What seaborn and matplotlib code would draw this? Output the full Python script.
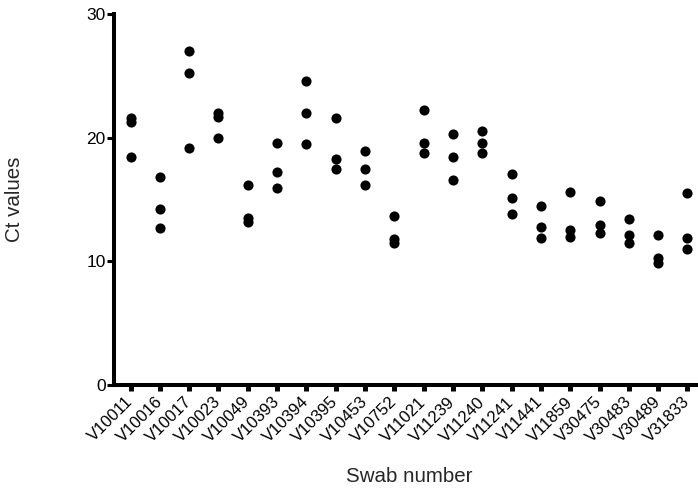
import matplotlib
matplotlib.use("Agg")
import matplotlib.pyplot as plt
import seaborn as sns
import pandas as pd

# Swab identifiers along the x axis
swabs = ["V10011", "V10016", "V10017", "V10023", "V10049", "V10393", "V10394",
         "V10395", "V10453", "V10752", "V11021", "V11239", "V11240", "V11241",
         "V11441", "V11859", "V30475", "V30483", "V30489", "V31833"]

# Three replicate Ct values per swab
rep1 = [21.6, 16.8, 27.0, 22.0, 16.2, 19.6, 24.6, 21.6, 18.9, 13.7,
        22.2, 20.3, 20.5, 17.1, 14.5, 15.6, 14.9, 13.4, 12.1, 15.5]
rep2 = [21.3, 14.2, 25.2, 21.7, 13.5, 17.2, 22.0, 18.3, 17.5, 11.8,
        19.6, 18.4, 19.6, 15.1, 12.8, 12.5, 12.9, 12.1, 10.3, 11.9]
rep3 = [18.4, 12.7, 19.2, 20.0, 13.2, 15.9, 19.5, 17.5, 16.2, 11.5,
        18.8, 16.6, 18.8, 13.8, 11.9, 12.0, 12.3, 11.5, 9.9, 11.0]

yticks = [0, 10, 20, 30]

df = pd.DataFrame({
    "Swab number": swabs * 3,
    "Ct values": rep1 + rep2 + rep3,
})

sns.set_style("ticks")
plt.rcParams["font.family"] = ["Liberation Sans", "DejaVu Sans"]

fig = plt.figure(figsize=(6.98, 4.90), dpi=100)
W, H = 698, 490
x0, y0, y1 = 113.5, 385, 14
ax = fig.add_axes([x0 / W, (H - y0) / H, 1 - x0 / W, (y0 - y1) / H])

sns.stripplot(data=df, x="Swab number", y="Ct values", order=swabs,
              jitter=False, color="black", size=7.3, linewidth=0, ax=ax)

ax.set_ylim(0, 30)
ax.set_yticks(yticks)
ax.set_xlim(-0.58, 19.36)

for side in ("top", "right"):
    ax.spines[side].set_visible(False)
for side in ("left", "bottom"):
    ax.spines[side].set_linewidth(2.9)
    ax.spines[side].set_color("black")
    ax.spines[side].set_capstyle("projecting")

ax.tick_params(axis="y", length=5.2, width=2.2, pad=0.5, labelsize=12.5,
               colors="black")
ax.tick_params(axis="x", length=4.5, width=3.6, pad=6, labelsize=12,
               colors="black")
for lab in ax.get_xticklabels():
    lab.set_rotation(45)
    lab.set_ha("right")
    lab.set_va("center")
    lab.set_rotation_mode("anchor")

ax.set_xlabel("Swab number", fontsize=14.8)
ax.set_ylabel("Ct values", fontsize=14.8)
ax.xaxis.set_label_coords(0.506, -0.222)
ax.yaxis.set_label_coords(-0.153, 0.5)

fig.savefig("out.png", dpi=100)
